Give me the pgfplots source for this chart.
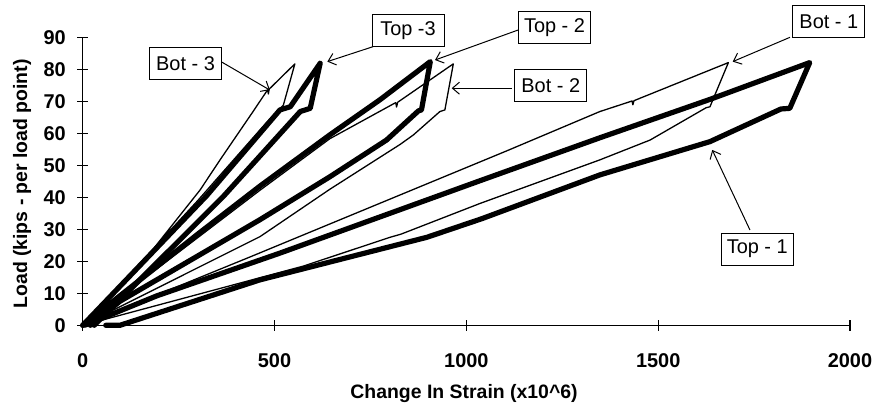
\documentclass[border=0pt]{standalone}
\usepackage{pgfplots}
\pgfplotsset{compat=1.18}
\usepackage{fontspec}
\setmainfont{Liberation Sans}
\usetikzlibrary{arrows.meta}
\begin{document}
\begin{tikzpicture}
\begin{axis}[
  scale only axis, width=767.3bp, height=288bp,
  xmin=0, xmax=2000, ymin=0, ymax=90,
  axis x line=bottom, axis y line=left,
  axis line style={-, line width=1.2bp, black},
  xtick={0,500,1000,1500,2000}, ytick={0,10,...,90},
  tick align=center, major tick length=11bp,
  tick style={line width=1.2bp, black},
  /pgf/number format/assume math mode=true,
  /pgf/number format/1000 sep={},
  scaled ticks=false,
  ticklabel style={font=\bfseries\fontsize{20}{20}\selectfont},
  xticklabel style={yshift=-19bp},
  yticklabel style={xshift=-8bp},
  clip=false,
  thickline/.style={black, line width=5.2bp, line join=round, line cap=round, mark=none},
  thinline/.style={black, line width=1.3bp, line join=round, mark=none},
]
% Top - 1
\addplot[thickline] coordinates {(5,0) (193,9.2) (515,22.6) (1036,45.2) (1348,58.6) (1635,70.6) (1895,82.1)
 (1843,67.8) (1820,67.6) (1635,57.4) (1348,47) (1040,33.3) (897,27.5) (462,14.2) (97,0) (60,0)};
% Bot - 1
\addplot[thinline] coordinates {(0,0) (437,21.4) (1105,54.5) (1348,66.8) (1432,70.1) (1434,68.9) (1437,70.2) (1683,82.1)
 (1635,68.3) (1625,68.0) (1479,57.9) (1348,51.7) (1036,38.1) (830,28.5) (801,27.5) (575,18.5) (0,0)};
% Top - 2
\addplot[thickline] coordinates {(0,0) (300,28.5) (462,43.5) (644,59.5) (775,70.5) (906,82.4)
 (883,67.3) (875,67) (792,57.9) (644,46.4) (462,33) (97,7.5) (20,0)};
% Bot - 2
\addplot[thinline] coordinates {(0,0) (462,42.2) (644,58.3) (816,69.6) (818,68.2) (821,69.7) (966,81.7)
 (944,67.3) (931,66.8) (862,59.5) (827,56.5) (644,42.5) (462,27.7) (0,0)};
% Top - 3
\addplot[thickline] coordinates {(0,0) (323,40.5) (514,67.3) (541,68.3) (619,81.9)
 (593,67.8) (567,66.8) (366,40.2) (30,0)};
% Bot - 3
\addplot[thinline] coordinates {(0,0) (175,22.5) (306,42.3) (358,51.7) (444,66.8) (482,73.6) (484,72.3) (486,73.8) (553,81.7)
 (523,68.8) (480,63.5) (300,39) (0,0)};

% callouts
\tikzset{callout/.style={draw=black, line width=1bp, fill=white, minimum width=72bp, minimum height=32bp, inner sep=0pt, font=\fontsize{20}{20}\selectfont},
         carrow/.style={line width=1bp, -{Straight Barb[length=7bp,width=12bp,line width=1bp]}}}
\draw[carrow] (axis cs:360.5,82.4) -- (axis cs:488,73.5);
\node[callout] at (axis cs:268,81.8) {Bot - 3};
\draw[carrow] (axis cs:757.5,87.1) -- (axis cs:637.6,82.4);
\node[callout] at (axis cs:848,92.1) {Top -3};
\draw[carrow] (axis cs:1135.4,92.3) -- (axis cs:918.3,82.9);
\node[callout] at (axis cs:1229.8,93.1) {Top - 2};
\draw[carrow] (axis cs:1118.2,74.1) -- (axis cs:961.8,74.1);
\node[callout] at (axis cs:1220,74.8) {Bot - 2};
\draw[carrow] (axis cs:1843.6,90) -- (axis cs:1694.3,82.4);
\node[callout] at (axis cs:1944.8,94.8) {Bot - 1};
\draw[carrow] (axis cs:1739.2,29.8) -- (axis cs:1641,54.8);
\node[callout] at (axis cs:1758.4,23.8) {Top - 1};

% axis titles
\node[font=\bfseries\fontsize{19.5}{19.5}\selectfont] at (axis cs:994,-21.2) {Change In Strain (x10\^{}6)};
\node[rotate=90, font=\bfseries\fontsize{19.5}{19.5}\selectfont] at (axis cs:-158.2,44.2) {Load (kips - per load point)};

\coordinate (BBA) at (axis cs:-215.6,101.66);
\coordinate (BBB) at (axis cs:2067.8,-26.16);
\end{axis}
\pgfresetboundingbox
\path[use as bounding box] (BBA) rectangle (BBB);
\end{tikzpicture}
\end{document}
